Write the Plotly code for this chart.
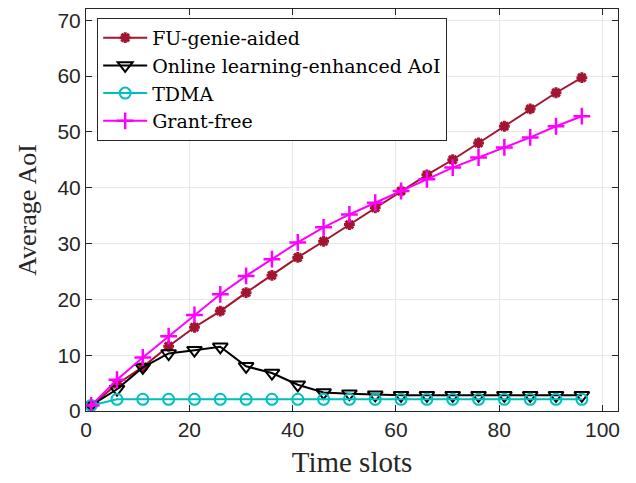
import plotly.graph_objects as go

# time slots
slots = [1, 6, 11, 16, 21, 26, 31, 36, 41, 46, 51, 56, 61, 66, 71, 76, 81, 86, 91, 96]

# average AoI per scheme
fu_genie = [1.0, 4.8, 7.9, 11.6, 15.0, 17.9, 21.2, 24.3, 27.5, 30.4, 33.4, 36.4, 39.4, 42.3, 45.0, 48.0, 51.0, 54.1, 57.0, 59.7]
online_aoi = [1.0, 3.9, 7.8, 10.3, 10.9, 11.5, 8.0, 6.8, 4.7, 3.3, 3.1, 2.9, 2.8, 2.8, 2.8, 2.8, 2.8, 2.8, 2.8, 2.8]
tdma = [1.0, 2.1, 2.1, 2.1, 2.1, 2.1, 2.1, 2.1, 2.1, 2.1, 2.1, 2.1, 2.1, 2.1, 2.1, 2.1, 2.1, 2.1, 2.1, 2.1]
grant_free = [1.0, 5.6, 9.6, 13.4, 17.2, 20.9, 24.2, 27.2, 30.2, 32.9, 35.2, 37.3, 39.4, 41.5, 43.6, 45.4, 47.2, 49.0, 51.0, 52.8]

fig = go.Figure()

fig.add_trace(go.Scatter(x=slots, y=fu_genie, name='FU-genie-aided', mode='lines+markers',
                         line=dict(color='#A2142F', width=2),
                         marker=dict(symbol='asterisk-open', size=9, color='#A2142F',
                                     line=dict(width=3, color='#A2142F'))))
fig.add_trace(go.Scatter(x=slots, y=online_aoi, name='Online learning-enhanced AoI', mode='lines+markers',
                         line=dict(color='black', width=2),
                         marker=dict(symbol='triangle-down-open', size=13, color='black',
                                     line=dict(width=2, color='black'))))
fig.add_trace(go.Scatter(x=slots, y=tdma, name='TDMA', mode='lines+markers',
                         line=dict(color='#00BFBF', width=2),
                         marker=dict(symbol='circle-open', size=11, color='#00BFBF',
                                     line=dict(width=2, color='#00BFBF'))))
fig.add_trace(go.Scatter(x=slots, y=grant_free, name='Grant-free', mode='lines+markers',
                         line=dict(color='#FF00FF', width=2),
                         marker=dict(symbol='cross-thin-open', size=12, color='#FF00FF',
                                     line=dict(width=2.5, color='#FF00FF'))))

axis_common = dict(showgrid=True, gridcolor='#e6e6e6', gridwidth=1, automargin=False,
                   showline=True, linecolor='#262626', linewidth=1, mirror='ticks',
                   ticks='inside', ticklen=6, tickcolor='#262626', zeroline=False,
                   tickfont=dict(family='Liberation Sans, Arial', size=21, color='#262626'))

fig.update_xaxes(range=[0, 103], tickvals=[0, 20, 40, 60, 80, 100],
                 title=dict(text='Time slots', font=dict(family='Liberation Serif, serif', size=29, color='#262626'),
                            standoff=11),
                 **axis_common)
fig.update_yaxes(range=[0, 72], tickvals=[0, 10, 20, 30, 40, 50, 60, 70],
                 title=dict(text='Average AoI', font=dict(family='Liberation Serif, serif', size=26, color='#262626'),
                            standoff=13),
                 **axis_common)

fig.update_layout(
    width=636, height=483,
    margin=dict(l=86, r=18, t=9, b=72),
    plot_bgcolor='white', paper_bgcolor='white',
    legend=dict(x=0.021, y=0.978, xanchor='left', yanchor='top',
                bgcolor='white', bordercolor='#262626', borderwidth=1,
                font=dict(family='DejaVu Serif, serif', size=19, color='black'),
                tracegroupgap=0, itemwidth=44),
)

fig.write_html("out.html", config={'displayModeBar': False},
               post_script="document.body.style.margin='0';")
